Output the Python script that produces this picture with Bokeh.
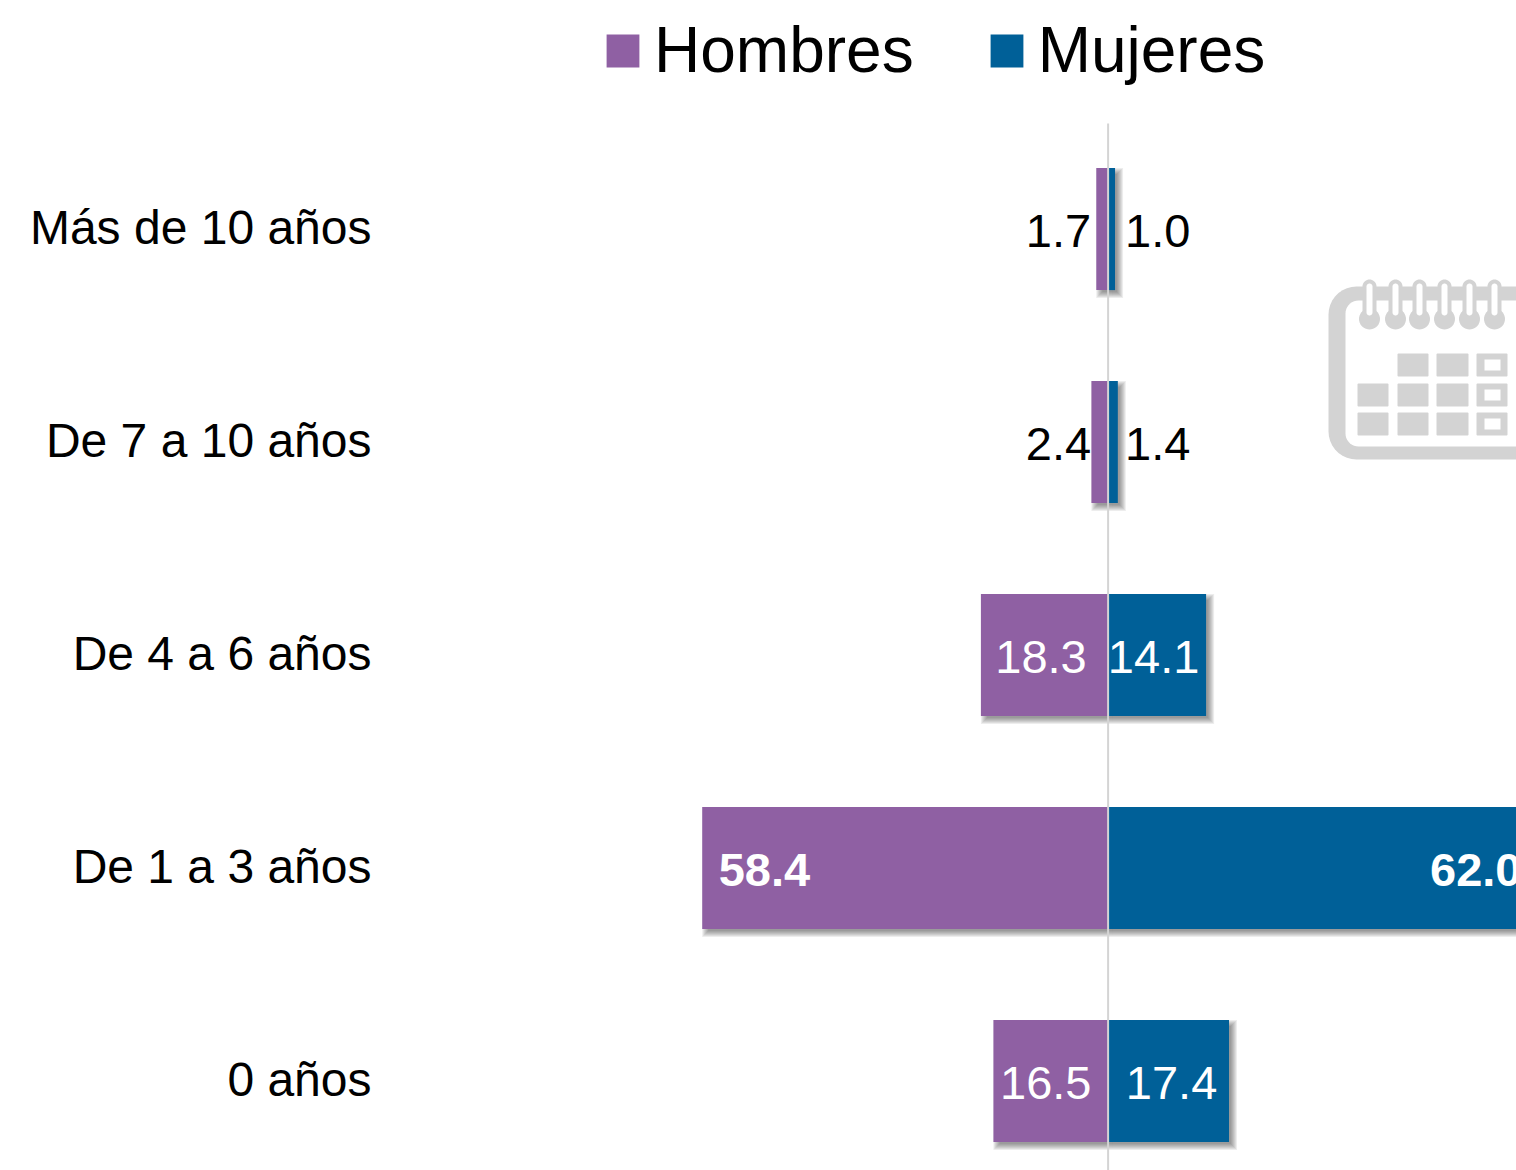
import numpy as np
from bokeh.plotting import figure
from bokeh.models import ColumnDataSource, Range1d, FixedTicker, Legend, LegendItem
from bokeh.core.properties import value
from bokeh.embed import file_html
from bokeh.resources import INLINE

categories = ["0 años", "De 1 a 3 años", "De 4 a 6 años", "De 7 a 10 años", "Más de 10 años"]
hombres = [16.5, 58.4, 18.3, 2.4, 1.7]
mujeres = [17.4, 62.0, 14.1, 1.4, 1.0]
series_names = ["Hombres", "Mujeres"]
PURPLE, BLUE = "#8F60A3", "#006098"
FONT = "Liberation Sans"

# reference pixel geometry
X0, PXU = 1107.6, 6.95      # pixel of zero, pixels per unit
Y0, PYU = 1080.6, 213.0     # pixel of first category, pixels per category
fx = lambda px: (np.asarray(px, float) - X0) / PXU
fy = lambda py: (Y0 - np.asarray(py, float)) / PYU

y = np.arange(len(categories), dtype=float)
H = 0.573
W, HT = 1516, 1170
FRAME_L = 383

p = figure(width=W, height=HT, output_backend="svg", toolbar_location=None,
           x_range=Range1d(float(fx(FRAME_L)), float(fx(1516))),
           y_range=Range1d(float(fy(1170)), float(fy(0))),
           min_border_left=FRAME_L, min_border_right=0, min_border_bottom=0,
           min_border_top=0, background_fill_color="white", border_fill_color="white",
           outline_line_color=None)
p.xaxis.visible = False
p.xgrid.visible = False
p.ygrid.visible = False
ax = p.yaxis[0]
tick_pos = [float(v) + 1.5 / PYU for v in y]
ax.ticker = FixedTicker(ticks=tick_pos)
ax.major_label_overrides = {t: c for t, c in zip(tick_pos, categories)}
ax.axis_line_color = None
ax.major_tick_line_color = None
ax.minor_tick_line_color = None
ax.major_label_standoff = 6
ax.major_label_text_font = FONT
ax.major_label_text_font_size = "48px"
ax.major_label_text_color = "#000000"
ax.major_label_text_align = "right"

# soft drop shadows, built from the values
h = np.array(hombres); m = np.array(mujeres)
dx, dy = 4 / PXU, 4 / PYU
for grow in [4, 3, 2, 1, 0, -1, -2]:
    g = grow / PXU; gy = grow / PYU
    kw = dict(fill_color="#303030", fill_alpha=0.085, line_color=None)
    p.quad(left=-h + dx - g, right=np.zeros_like(h) + dx, top=y + H / 2 - dy + gy,
           bottom=y - H / 2 - dy - gy, **kw)
    p.quad(left=np.zeros_like(m) + dx, right=m + dx + g, top=y + H / 2 - dy + gy,
           bottom=y - H / 2 - dy - gy, **kw)

r_h = p.hbar(y=y, left=-h, right=0, height=H, fill_color=PURPLE, line_color=None)
r_m = p.hbar(y=y, left=0, right=m, height=H, fill_color=BLUE, line_color=None)

# zero line, from below the legend to the bottom edge
p.segment(x0=[0], x1=[0], y0=[float(fy(1170))], y1=[float(fy(123))], line_color="#D4D4D4", line_width=2)

# value labels
nudge = {16.5: -5, 18.3: -3.5, 14.1: -3.5, 17.4: 3, 58.4: 16.5, 62.0: -17.5}
def labels(vals, sign):
    xs, off, align, col, style = [], [], [], [], []
    for v in vals:
        if v < 5:          # outside, at a fixed distance from the axis
            xs.append(0)
            off.append(-17 if sign < 0 else 17)
            align.append("right" if sign < 0 else "left"); col.append("#000000"); style.append("normal")
        elif v < 40:       # centred
            xs.append(sign * v / 2); off.append(nudge[v])
            align.append("center"); col.append("#FFFFFF"); style.append("normal")
        else:              # inside the end, bold
            xs.append(sign * v); off.append(nudge[v])
            align.append("left" if sign < 0 else "right"); col.append("#FFFFFF"); style.append("bold")
    return xs, off, align, col, style

for vals, sign in [(hombres, -1), (mujeres, 1)]:
    xs, off, align, col, style = labels(vals, sign)
    src = ColumnDataSource(dict(x=xs, y=y, t=[f"{v:.1f}" for v in vals], o=off, a=align, c=col, s=style))
    p.text(x="x", y="y", text="t", x_offset="o", y_offset=2, text_align="a", text_color="c",
           text_font_style="s", text_baseline="middle", text_font=value(FONT),
           text_font_size="47px", source=src)

# calendar pictogram
GREY = "#D3D3D3"
def rrect(x0, y0, x1, y1, r):
    t = np.linspace(0, np.pi / 2, 10)
    xs = np.r_[x0 + r - r * np.cos(t), x1 - r + r * np.sin(t), x1 - r + r * np.cos(t), x0 + r - r * np.sin(t)]
    ys = np.r_[y0 + r - r * np.sin(t), y0 + r - r * np.cos(t), y1 - r + r * np.sin(t), y1 - r + r * np.cos(t)]
    return fx(xs), fy(ys)
def shape(x0, y0, x1, y1, r, color):
    xs, ys = rrect(x0, y0, x1, y1, r)
    p.patch(xs, ys, fill_color=color, line_color=None)

shape(1328, 286, 1600, 459, 28, GREY)
shape(1345, 300, 1600, 446, 13, "#FFFFFF")
for cx in [1369, 1395, 1419, 1444, 1469, 1494]:
    shape(cx - 7, 279, cx + 7, 325, 7, GREY)
    shape(cx - 10.5, 308, cx + 10.5, 329, 10.5, GREY)
    shape(cx - 3, 283, cx + 3, 315, 3, "#FFFFFF")
for col_i, (a, b) in enumerate([(1357, 1388), (1397, 1428), (1436, 1468), (1476, 1507)]):
    for row_i, (c, d) in enumerate([(353, 376), (383, 406), (412, 435)]):
        if col_i == 0 and row_i == 0:
            continue
        shape(a, c, b, d, 1, GREY)
        if col_i == 3:
            shape(a + 8, c + 6, b - 7, d - 6, 0, "#FFFFFF")

legend = Legend(items=[LegendItem(label=series_names[0], renderers=[r_h]),
                       LegendItem(label=series_names[1], renderers=[r_m])],
                orientation="horizontal", location=(602 - FRAME_L, 1170 - 87),
                glyph_width=41, glyph_height=41, label_standoff=11, spacing=72,
                label_text_font=FONT, label_text_font_size="64px", label_text_color="#000000",
                border_line_color=None, background_fill_color=None, padding=0, margin=0)
p.add_layout(legend, "center")

open("out.html", "w").write(file_html(p, INLINE))
